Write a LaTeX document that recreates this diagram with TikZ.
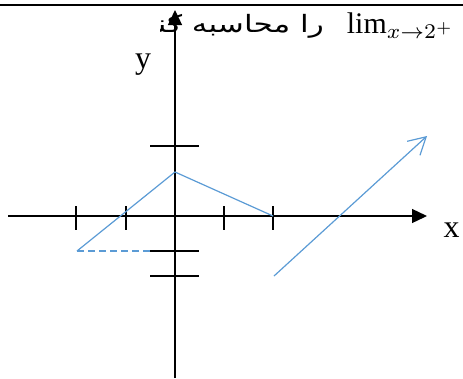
\documentclass[tikz,border=0pt]{standalone}
\usepackage{fontspec}
\setmainfont{Liberation Serif}
\newfontfamily\arabicfont[Script=Arabic]{DejaVu Sans}
\TeXXeTstate=1
\usetikzlibrary{arrows.meta}
\definecolor{ink}{HTML}{000000}
\definecolor{plotblue}{HTML}{5B9BD5}
\tikzset{
  axisline/.style={draw=ink, line width=1.3bp, -{Triangle[length=15bp,width=14bp]}},
  tickmark/.style={draw=ink, line width=1.3bp},
  graphline/.style={draw=plotblue, line width=1.2bp},
  axislabel/.style={inner sep=0pt, font=\fontsize{32}{36}\selectfont},
  titletext/.style={inner sep=0pt, scale=3, transform shape}
}
\begin{document}
\begin{tikzpicture}[x=1bp,y=-1bp]
  \useasboundingbox (0,0) rectangle (463,378);
  \draw[line width=2.5bp,draw=ink] (0,5) -- (463,5);
  % axes
  \coordinate (xstart) at (8,216);
  \coordinate (xend) at (427,216);
  \coordinate (ystart) at (175,378);
  \coordinate (yend) at (175,10);
  \draw[axisline] (xstart) -- (xend);
  \draw[axisline] (ystart) -- (yend);
  \foreach \tx in {76,126,224,273} {
    \draw[tickmark] (\tx,206) -- (\tx,230);
  }
  \foreach \ty in {146,251,276} {
    \draw[tickmark] (150,\ty) -- (199,\ty);
  }
  \node[axislabel] (ylab) at (143,65) {y};
  \node[axislabel] (xlab) at (451.5,230) {x};
  % graph
  \coordinate (p1) at (77,251);
  \coordinate (p2) at (175,172);
  \coordinate (p3) at (273,216);
  \coordinate (d1) at (150,251);
  \coordinate (a1) at (274,276);
  \coordinate (a2) at (427,136);
  \draw[graphline] (p1) -- (p2) -- (p3);
  \draw[graphline,dash pattern=on 7bp off 4bp] (p1) -- (d1);
  \draw[graphline,-{Straight Barb[length=17bp,width=19bp]}] (a1) -- (a2);
  % title
  \node[titletext,anchor=base east] (lim) at (455,33) {$\lim_{x\to2^+}$};
  \begin{scope}
    \clip (160,0) rectangle (463,60);
    \node[inner sep=0pt,font=\fontsize{24}{28}\selectfont,xscale=1.3,transform shape,anchor=base east] (task) at (324,32) {\arabicfont\beginR را محاسبه کنید\endR};
  \end{scope}
\end{tikzpicture}
\end{document}
